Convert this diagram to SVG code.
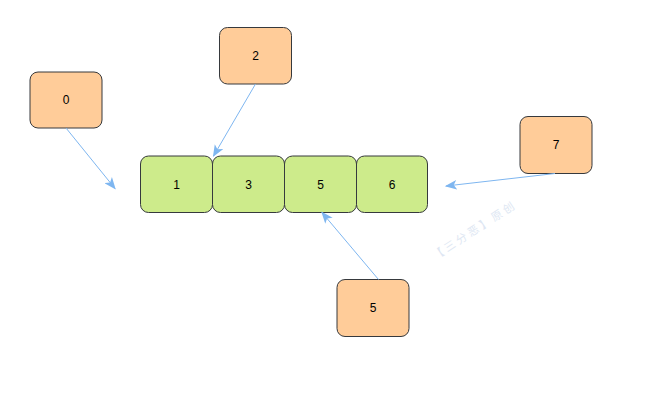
<svg xmlns="http://www.w3.org/2000/svg" width="666" height="415" viewBox="0 0 666 415">
<style>
.o{fill:#FFCC99;stroke:#36393d;stroke-width:1}
.g{fill:#CDEB8B;stroke:#36393d;stroke-width:1}
.t{font-family:"Liberation Sans",Arial,sans-serif;font-size:12px;fill:#000;text-anchor:middle;dominant-baseline:central}
.e{fill:none;stroke:#7EB6F0;stroke-width:1}
</style>
<defs>
<marker id="ah" markerUnits="userSpaceOnUse" markerWidth="12" markerHeight="10" refX="9" refY="4" orient="auto" viewBox="0 0 10 8">
<path d="M0,0 L10,4 L0,8 L2.5,4 Z" fill="#7EB6F0"/>
</marker>
</defs>
<rect width="666" height="415" fill="#fff"/>
<g id="arr-1"><rect class="g" x="140.5" y="156" width="72" height="56.5" rx="8"/><text class="t" x="176.5" y="184.5">1</text></g>
<g id="arr-3"><rect class="g" x="212.5" y="156" width="72" height="56.5" rx="8"/><text class="t" x="248.5" y="184.5">3</text></g>
<g id="arr-5"><rect class="g" x="284.5" y="156" width="72" height="56.5" rx="8"/><text class="t" x="320.5" y="184.5">5</text></g>
<g id="arr-6"><rect class="g" x="356.5" y="156" width="71" height="56.5" rx="8"/><text class="t" x="392" y="184.5">6</text></g>
<g id="n0"><rect class="o" x="30" y="72" width="72" height="56" rx="8"/><text class="t" x="66" y="100">0</text></g>
<g id="n2"><rect class="o" x="219.5" y="27.5" width="72" height="56.5" rx="8"/><text class="t" x="255.5" y="56">2</text></g>
<g id="n7"><rect class="o" x="520" y="116.5" width="72" height="57" rx="8"/><text class="t" x="556" y="145">7</text></g>
<g id="n5"><rect class="o" x="337" y="279.5" width="72" height="57" rx="8"/><text class="t" x="373" y="308">5</text></g>
<g id="connectors">
<line class="e" x1="66" y1="128" x2="115" y2="188.5" marker-end="url(#ah)"/>
<line class="e" x1="255.5" y1="84" x2="213.5" y2="156" marker-end="url(#ah)"/>
<line class="e" x1="555" y1="173.5" x2="446" y2="186" marker-end="url(#ah)"/>
<line class="e" x1="378.5" y1="279.5" x2="322" y2="212.5" marker-end="url(#ah)"/>
</g>
<text x="474" y="229" transform="rotate(-33 474 229)" font-family="'Noto Sans CJK SC',sans-serif" font-size="11" letter-spacing="3" fill="#c4d3ea" opacity="0.55" text-anchor="middle" dominant-baseline="central">【三分恶】原创</text>
</svg>
